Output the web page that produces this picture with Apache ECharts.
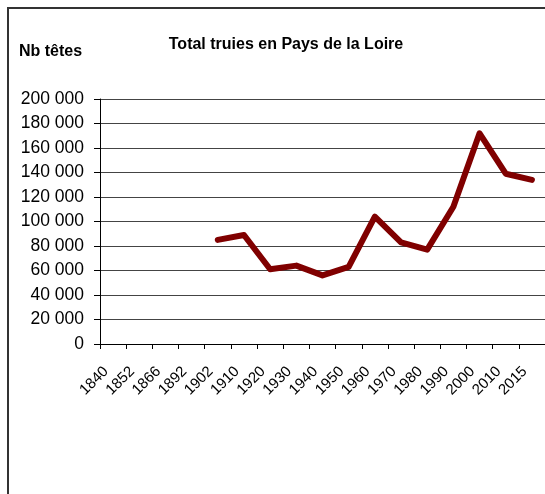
<!DOCTYPE html>
<html>
<head>
<meta charset="utf-8">
<script src="https://cdn.jsdelivr.net/npm/echarts@6/dist/echarts.min.js"></script>
<style>
  html, body { margin: 0; padding: 0; background: #fff; }
  #main { width: 545px; height: 494px; }
</style>
</head>
<body>
<div id="main"></div>
<script>
// données
const annees = ['1840', '1852', '1866', '1892', '1902', '1910', '1920', '1930', '1940',
    '1950', '1960', '1970', '1980', '1990', '2000', '2010', '2015'];
const truies = [null, null, null, null, 85000, 89000, 61000, 64000, 56000,
    63000, 104000, 83000, 77000, 112000, 172000, 139000, 134000];
const yTicks = [0, 20000, 40000, 60000, 80000, 100000, 120000, 140000, 160000, 180000, 200000];

const police = "'Liberation Sans', Arial, sans-serif";

function formatNombre(v) {
    return String(v).replace(/\B(?=(\d{3})+(?!\d))/g, ' ');
}

let myChart = echarts.init(document.querySelector('#main'));
let option = {
    animation: false,
    backgroundColor: '#fff',
    textStyle: { fontFamily: police },
    graphic: [
        {
            type: 'rect',
            shape: { x: 8, y: 8, width: 700, height: 700 },
            style: { fill: 'none', stroke: '#333', lineWidth: 2 }
        },
        {
            type: 'text',
            left: 19,
            top: 44,
            style: { text: 'Nb têtes', font: "bold 16px 'Liberation Sans', Arial", fill: '#000' }
        }
    ],
    title: {
        text: 'Total truies en Pays de la Loire',
        left: 281,
        textAlign: 'center',
        top: 32,
        textStyle: { fontSize: 16, fontWeight: 'bold', color: '#000', fontFamily: police }
    },
    grid: { left: 100, top: 99, right: 0, bottom: 150, containLabel: false },
    xAxis: {
        type: 'category',
        data: annees,
        boundaryGap: true,
        axisLine: { lineStyle: { color: '#000', width: 1 } },
        axisTick: { show: true, length: 5, lineStyle: { color: '#000' } },
        axisLabel: {
            rotate: 45,
            interval: 0,
            margin: 18,
            padding: [0, 10, 0, 0],
            fontSize: 15,
            color: '#000',
            fontFamily: police
        },
        splitLine: { show: false }
    },
    yAxis: {
        type: 'value',
        min: yTicks[0],
        max: yTicks[yTicks.length - 1],
        interval: yTicks[1] - yTicks[0],
        axisLine: { show: true, lineStyle: { color: '#000', width: 1 } },
        axisTick: { show: true, length: 6, lineStyle: { color: '#000' } },
        axisLabel: {
            margin: 16,
            fontSize: 17.5,
            color: '#000',
            fontFamily: police,
            formatter: formatNombre
        },
        splitLine: { show: true, lineStyle: { color: '#444', width: 1 } }
    },
    series: [
        {
            name: 'Total truies',
            type: 'line',
            data: truies,
            showSymbol: false,
            symbol: 'none',
            lineStyle: { color: '#800000', width: 6, cap: 'round', join: 'round' },
            itemStyle: { color: '#800000' }
        }
    ]
};
myChart.setOption(option);
</script>
</body>
</html>
